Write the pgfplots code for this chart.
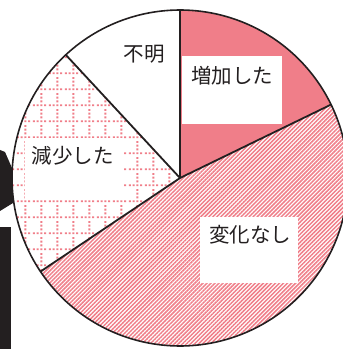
\documentclass[border=0pt]{standalone}
\usepackage{pgfplots}
\pgfplotsset{compat=1.18}
\usepackage{fontspec}
\setmainfont{Noto Sans CJK JP}
\usetikzlibrary{patterns,patterns.meta}
\definecolor{pieRed}{RGB}{240,126,137}
\definecolor{txt}{RGB}{35,31,32}
\pgfdeclarepatternformonly{dotgrid}{\pgfqpoint{0pt}{0pt}}{\pgfqpoint{16pt}{16pt}}{\pgfqpoint{16pt}{16pt}}{%
  \pgfpathrectangle{\pgfqpoint{2pt}{3pt}}{\pgfqpoint{2pt}{2pt}}%
  \pgfpathrectangle{\pgfqpoint{6pt}{3pt}}{\pgfqpoint{2pt}{2pt}}%
  \pgfpathrectangle{\pgfqpoint{10pt}{3pt}}{\pgfqpoint{2pt}{2pt}}%
  \pgfpathrectangle{\pgfqpoint{14pt}{3pt}}{\pgfqpoint{2pt}{2pt}}%
  \pgfpathrectangle{\pgfqpoint{10pt}{7pt}}{\pgfqpoint{2pt}{2pt}}%
  \pgfpathrectangle{\pgfqpoint{10pt}{11pt}}{\pgfqpoint{2pt}{2pt}}%
  \pgfpathrectangle{\pgfqpoint{10pt}{15pt}}{\pgfqpoint{2pt}{2pt}}%
  \pgfusepath{fill}}
% shares (percent), clockwise from 12 o'clock
\def\vA{17.8}% 増加した
\def\vB{47.8}% 変化なし
\def\vC{22.5}% 減少した
\def\vD{11.9}% 不明
\pgfmathsetmacro{\aA}{90}
\pgfmathsetmacro{\aB}{\aA-3.6*\vA}
\pgfmathsetmacro{\aC}{\aB-3.6*\vB}
\pgfmathsetmacro{\aD}{\aC-3.6*\vC}
\pgfmathsetmacro{\aE}{\aD-3.6*\vD}
\begin{document}
\begin{tikzpicture}
\useasboundingbox (0pt,0pt) rectangle (343pt,349pt);
\clip (0pt,0pt) rectangle (343pt,349pt);
% cropped neighbouring artwork at the left edge
\fill[txt] (0pt,0pt) rectangle (11pt,122pt);
\fill[txt] (0pt,199pt) -- (5pt,197pt) -- (12pt,181pt) -- (13pt,146pt) -- (0pt,138pt) -- cycle;
\begin{axis}[at={(12pt,3pt)}, anchor=south west, scale only axis,
  width=336pt, height=336pt, xmin=-1, xmax=1, ymin=-1, ymax=1,
  hide axis, clip=false]
% wedges
\addplot[draw=none, fill=pieRed, domain=\aA:\aB, samples=60] ({cos(x)},{sin(x)}) -- (axis cs:0,0) -- cycle;
\addplot[draw=none, fill=white, domain=\aB:\aC, samples=120] ({cos(x)},{sin(x)}) -- (axis cs:0,0) -- cycle;
\addplot[draw=none, pattern={Lines[angle=45, distance=2.85pt, line width=1.5pt]}, pattern color=pieRed, domain=\aB:\aC, samples=120] ({cos(x)},{sin(x)}) -- (axis cs:0,0) -- cycle;
\addplot[draw=none, fill=white, domain=\aC:\aD, samples=60] ({cos(x)},{sin(x)}) -- (axis cs:0,0) -- cycle;
\addplot[draw=none, pattern=dotgrid, pattern color=pieRed, domain=\aC:\aD, samples=60] ({cos(x)},{sin(x)}) -- (axis cs:0,0) -- cycle;
\addplot[draw=none, fill=white, domain=\aD:\aE, samples=40] ({cos(x)},{sin(x)}) -- (axis cs:0,0) -- cycle;
% outline
\addplot[txt, line width=1.6pt, domain=0:360, samples=240] ({cos(x)},{sin(x)});
\addplot[txt, line width=1.8pt] coordinates {(0,0) ({cos(\aA)},{sin(\aA)})};
\addplot[txt, line width=1.8pt] coordinates {(0,0) ({cos(\aB)},{sin(\aB)})};
\addplot[txt, line width=1.8pt] coordinates {(0,0) ({cos(\aC)},{sin(\aC)})};
\addplot[txt, line width=1.8pt] coordinates {(0,0) ({cos(\aD)},{sin(\aD)})};
% label boxes
\fill[white] (axis cs:0.012,0.726) rectangle (axis cs:0.607,0.321);
\fill[white] (axis cs:0.119,-0.232) rectangle (axis cs:0.702,-0.625);
\fill[white] (axis cs:-0.923,0.238) rectangle (axis cs:-0.339,-0.131);
% labels
\node[txt, font=\fontsize{20.5}{24}\selectfont] at (axis cs:0.31,0.607) {増加した};
\node[txt, font=\fontsize{20.5}{24}\selectfont] at (axis cs:0.417,-0.339) {変化なし};
\node[txt, font=\fontsize{20.5}{24}\selectfont] at (axis cs:-0.637,0.131) {減少した};
\node[txt, font=\fontsize{20.5}{24}\selectfont] at (axis cs:-0.214,0.738) {不明};
\end{axis}
\end{tikzpicture}
\end{document}
